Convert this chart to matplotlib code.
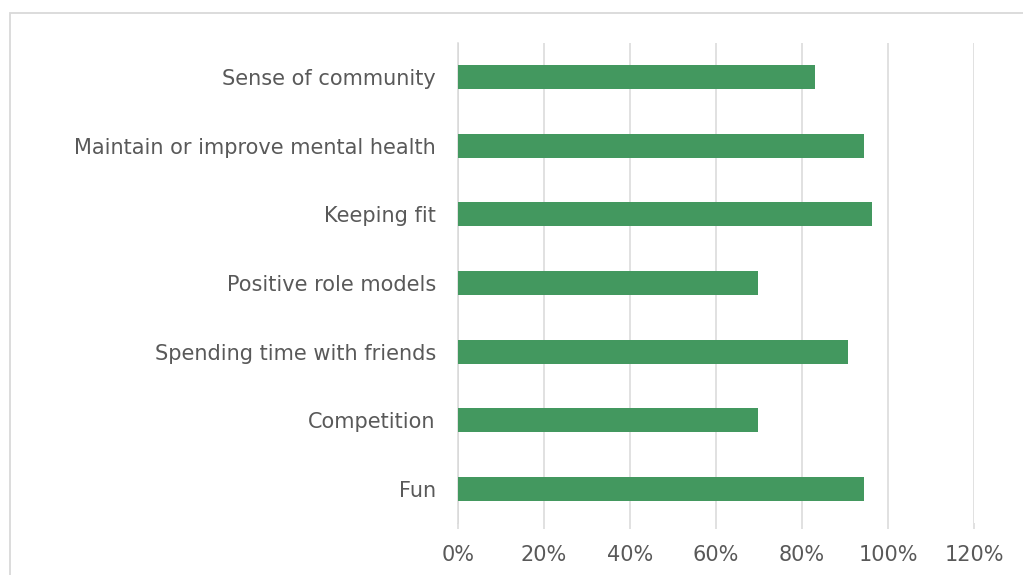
import matplotlib.pyplot as plt
from matplotlib.patches import Rectangle
from matplotlib.ticker import PercentFormatter, MultipleLocator

categories = [
    "Sense of community",
    "Maintain or improve mental health",
    "Keeping fit",
    "Positive role models",
    "Spending time with friends",
    "Competition",
    "Fun",
]
values = [83.0, 94.4, 96.3, 69.8, 90.6, 69.8, 94.4]

bar_color = "#43985F"
grid_color = "#D9D9D9"
text_color = "#595959"

plt.rcParams["font.family"] = ["DejaVu Sans"]

fig = plt.figure(figsize=(10.23, 5.75), dpi=100)
W, H = 1023, 575

# outer chart frame
fig.patches.append(Rectangle((10 / W, -0.05), 1.05, 1 - 13 / H + 0.05,
                             transform=fig.transFigure, fill=False,
                             edgecolor=grid_color, linewidth=1.3))

ax = fig.add_axes([458 / W, 1 - 523 / H, (974 - 458) / W, (523 - 43) / H])

y = list(range(len(categories)))[::-1]
ax.barh(y, values, height=0.35, color=bar_color, zorder=3)

ax.set_xlim(0, 120)
ax.set_ylim(-0.5, len(categories) - 0.5)
ax.xaxis.set_major_locator(MultipleLocator(20))
ax.xaxis.set_major_formatter(PercentFormatter(decimals=0))
ax.set_yticks(y)
ax.set_yticklabels(categories)

ax.grid(axis="x", color=grid_color, linewidth=1.1, zorder=0)
for s in ["top", "right", "bottom"]:
    ax.spines[s].set_visible(False)
ax.spines["left"].set_color(grid_color)
ax.spines["left"].set_linewidth(1.1)

ax.tick_params(axis="y", length=0, pad=16, labelsize=15, labelcolor=text_color)
ax.tick_params(axis="x", length=4, width=1.1, color=grid_color, pad=12,
               labelsize=15, labelcolor=text_color)

fig.savefig("out.png", dpi=100)
